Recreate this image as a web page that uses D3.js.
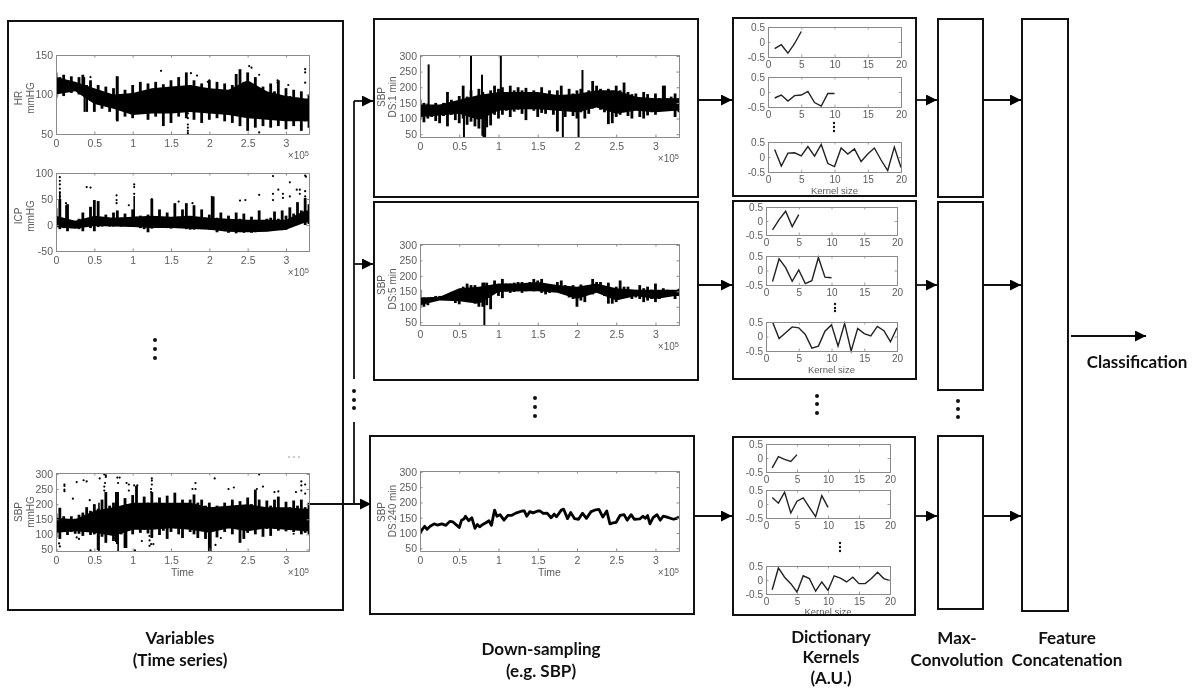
<!DOCTYPE html>
<html><head><meta charset="utf-8">
<style>html,body{margin:0;padding:0;background:#fff}svg{display:block}</style>
<script src="https://cdn.jsdelivr.net/npm/d3@7"></script></head><body>
<svg id="c" width="1192" height="700"></svg>
<script>
// ---------- data ----------
const timeStep = 5000;
const coreStep = 25000;
const timeTicks = [0, 50000, 100000, 150000, 200000, 250000, 300000];
const timeTickLabels = ["0", "0.5", "1", "1.5", "2", "2.5", "3"];
const kernelTicks = [0, 5, 10, 15, 20];

const hrHigh = [128,122,125,116,123,112,122,125,112,118,106,112,102,110,100,108,123,100,106,98,112,100,116,104,114,102,116,106,113,100,118,108,122,110,128,112,118,104,114,102,118,106,116,100,114,104,112,126,132,116,128,112,122,108,110,100,114,104,118,96,108,98,106,96,104,94,100];
const hrLow  = [96,104,98,108,102,110,100,106,78,92,78,92,82,94,78,90,66,86,72,88,70,84,76,88,68,84,72,86,60,78,64,80,72,86,70,90,68,84,64,82,68,84,70,86,66,82,64,78,60,84,54,76,58,78,60,78,58,76,60,74,56,72,60,70,54,66,58];
const hrCoreHigh = [122,116,108,100,102,108,110,112,108,106,118,104,98,95,95];
const hrCoreLow  = [100,104,88,82,74,76,76,78,76,74,70,68,66,66,66];
const hrDots = [[1.37,130],[2.52,136],[2.55,134],[2.65,125],[3.25,132],[3.25,128],[3.25,115],[1.76,127],[1.84,124],[1.72,88],[1.72,82],[1.72,76],[1.72,70],[1.72,62],[1.72,58],[1.72,54],[1.72,51],[2.65,52],[0.45,122],[2.89,118],[2.89,115],[3.03,112],[2.0,118],[1.98,116],[2.9,65]];
const hrSpikes = [[0.37,78,122],[0.79,68,123]];

const icpHigh = [32,50,12,40,6,8,12,24,10,35,48,46,14,20,12,24,28,14,22,12,30,16,18,12,20,50,16,30,14,24,12,42,16,30,42,14,38,12,30,14,20,55,14,24,10,18,8,24,12,22,8,16,10,28,8,12,14,26,12,28,18,34,22,44,28,52,40];
const icpLow  = [-5,-8,-6,-12,-6,-6,-8,-12,-4,-6,-12,-4,-3,-2,-3,-3,-2,-3,-2,-3,-3,-2,-6,-8,-14,-7,-4,-5,-5,-6,-7,-5,-6,-6,-8,-9,-9,-8,-8,-8,-9,-8,-14,-9,-12,-15,-12,-16,-14,-15,-13,-15,-14,-13,-12,-12,-11,-10,-9,-10,-9,2,6,3,8,0,2];
const icpCoreHigh = [18,8,18,14,16,18,16,18,14,12,10,10,10,28,28];
const icpCoreLow  = [-4,-7,-2,-3,-4,-6,-6,-7,-9,-13,-14,-13,-9,5,5];
const icpDots = [[0.05,100],[0.05,92],[0.05,85],[0.05,78],[0.05,70],[0.05,62],[0.05,55],[0.4,73],[0.45,72],[0.79,57],[0.79,48],[0.79,42],[1.02,78],[1.02,73],[1.02,60],[0.95,38],[1.25,50],[1.6,45],[1.78,42],[2.4,47],[2.47,48],[2.65,58],[2.83,94],[2.83,60],[2.83,48],[2.9,68],[2.96,60],[2.96,52],[3.05,82],[3.05,55],[3.14,68],[3.18,68],[3.18,60],[3.25,95],[3.26,93],[3.25,65],[3.25,55],[0.13,42],[0.14,35]];
const icpSpikes = [[0.05,0,65],[1.02,0,56],[2.03,0,56],[0.13,-5,38]];

const sbpHigh = [170,188,160,150,160,152,165,172,190,178,200,185,215,240,195,205,240,190,220,195,230,260,195,225,205,240,205,222,200,228,200,238,195,215,195,215,232,205,215,195,205,185,195,178,205,185,215,195,210,190,222,200,248,215,190,212,195,215,225,185,208,190,212,195,215,190,205];
const sbpLow  = [90,85,108,98,108,102,102,95,108,98,100,48,92,72,98,78,68,100,55,112,100,118,105,115,103,88,118,98,112,85,108,120,100,88,118,108,100,88,112,85,45,112,90,118,108,120,100,118,72,85,105,118,100,118,92,118,95,118,112,120,110,120,108,120,100,105,100];
const sbpCoreHigh = [155,150,178,190,205,205,205,205,190,195,200,190,190,185,185];
const sbpCoreLow  = [105,110,105,95,115,115,120,115,105,120,110,120,115,110,110];
const sbpDots = [[0.11,265],[0.11,260],[0.11,248],[0.11,243],[0.27,273],[0.36,279],[0.4,275],[0.57,285],[0.63,298],[0.65,295],[0.65,290],[0.64,270],[0.63,258],[0.63,245],[0.8,288],[0.83,288],[0.81,270],[0.92,270],[0.95,265],[0.95,245],[1.02,262],[1.06,262],[1.25,285],[1.25,278],[1.25,265],[1.24,250],[1.24,240],[1.82,270],[1.82,250],[1.78,250],[2.07,285],[2.08,65],[2.25,250],[2.32,255],[2.47,155],[2.62,250],[2.65,298],[2.7,258],[2.85,240],[2.9,242],[3.13,240],[3.2,275],[3.2,262],[3.2,245],[3.25,265],[3.25,235],[0.05,60],[0.04,70],[0.27,90],[0.3,85],[1.12,78],[1.22,95],[1.22,80],[1.24,68],[1.27,68],[1.22,62],[2.15,88],[3.1,102],[0.45,47],[1.03,47],[0.22,218],[0.44,213]];
const sbpSpikes = [[0.56,45,205],[0.92,55,200],[2.0,45,160],[2.02,45,150],[0.81,45,240],[0.78,75,240]];

const ds1High = [162,150,148,140,150,142,150,185,160,150,172,205,170,190,165,195,185,175,190,205,195,200,180,205,190,200,190,198,178,190,180,200,178,190,175,190,205,175,195,180,190,195,175,190,220,205,195,180,195,185,205,190,215,185,178,180,165,185,178,165,180,165,205,165,170,180,165];
const ds1Low  = [100,88,100,105,92,85,108,75,112,95,85,100,80,90,75,68,45,72,78,112,100,112,125,105,122,128,115,95,130,125,105,118,115,130,112,60,125,105,125,108,100,120,100,115,132,142,128,120,82,85,105,112,122,108,100,130,105,100,110,120,112,135,128,132,125,105,120];
const ds1CoreHigh = [145,145,160,175,185,185,185,175,178,190,190,170,165,165,165];
const ds1CoreLow  = [105,110,115,95,125,130,130,125,120,135,115,125,120,125,125];
const ds1Spikes = [[0.11,120,273],[0.65,130,300],[0.79,120,240],[1.03,130,300],[2.07,140,255],[0.56,40,140],[0.81,40,130],[0.83,40,130],[1.75,58,130],[1.82,40,130],[2.02,40,130],[3.12,140,205]];

const ds5High = [155,130,125,130,135,135,132,140,148,135,135,165,175,170,170,150,178,178,160,185,170,190,175,175,178,180,180,170,180,190,185,190,165,170,170,180,185,170,165,170,150,172,160,170,190,180,180,160,178,145,165,185,165,165,155,155,170,160,165,155,175,150,160,155,150,150,158];
const ds5Low  = [100,100,105,118,122,122,125,122,125,112,108,120,115,115,110,100,100,105,92,150,135,128,150,145,148,150,145,150,155,150,155,145,140,145,150,150,150,140,130,125,100,120,115,145,140,150,145,135,110,110,115,135,135,135,125,130,125,115,120,125,115,125,135,135,138,125,135];
const ds5CoreHigh = [130,132,160,165,175,175,180,170,165,175,160,155,155,155,155];
const ds5CoreLow  = [105,120,118,110,148,150,150,145,125,145,120,135,125,135,135];
const ds5Spikes = [[0.82,40,178]];

const ds240X = [0,.03,.06,.09,.13,.18,.22,.28,.33,.38,.42,.47,.5,.53,.56,.58,.62,.66,.7,.73,.76,.8,.85,.88,.91,.95,.98,1.02,1.07,1.12,1.17,1.22,1.3,1.33,1.36,1.4,1.44,1.5,1.53,1.57,1.62,1.67,1.71,1.74,1.8,1.83,1.88,1.92,1.97,2.02,2.07,2.12,2.18,2.24,2.28,2.33,2.38,2.42,2.46,2.5,2.55,2.6,2.64,2.69,2.73,2.8,2.84,2.87,2.9,2.93,2.97,3.02,3.06,3.1,3.17,3.23,3.27,3.3];
const ds240Y = [100,112,122,112,122,130,126,130,125,138,136,125,118,142,146,155,140,150,115,128,120,128,135,140,125,175,155,160,142,158,158,165,172,172,155,170,166,172,172,164,165,150,162,153,175,178,147,167,147,145,165,148,170,176,177,152,172,130,133,135,158,160,142,160,145,146,155,148,157,130,150,160,142,155,150,145,148,152];

const k1a = [-.22,-.09,-.37,-.05,.35];
const k1b = [-.2,-.1,-.3,-.12,-.1,.02,-.35,-.47,-.05,-.05];
const k1c = [.25,-.3,.13,.14,.04,.35,.03,.42,-.22,-.32,.3,.1,.27,-.15,.1,.3,-.1,-.45,.33,-.35];
const k2a = [-.32,.05,.35,-.2,.23];
const k2b = [-.38,.4,.1,-.37,.02,-.45,-.35,.45,-.23,-.25];
const k2c = [.5,-.07,.13,.33,.3,.07,-.4,-.33,.18,.4,-.33,.45,-.5,.28,.1,.02,.35,.2,-.18,.3];
const k3a = [-.35,.05,-.05,-.12,.12];
const k3b = [.23,.03,.42,-.32,.1,.22,-.12,-.45,.3,-.12];
const k3c = [-.35,.43,.1,-.13,-.43,.15,.05,-.4,-.07,-.37,.15,.07,-.07,.1,-.13,-.13,.05,.28,.05,-.02];

// ---------- drawing ----------
const svg = d3.select("#c");
const GREY = "#8a8a8a", TXT = "#5c5c5c", SANS = "Liberation Sans";
const plots = svg.append("g").style("filter","blur(0.5px)");
const boxes = svg.append("g");

svg.append("defs").append("marker").attr("id","ah").attr("viewBox","0 0 10 10")
  .attr("refX",10).attr("refY",5).attr("markerWidth",11).attr("markerHeight",11)
  .attr("markerUnits","userSpaceOnUse").attr("orient","auto")
  .append("path").attr("d","M0,0L10,5L0,10Z").attr("fill","#000");

function rect(x0,y0,x1,y1,w){
  boxes.append("rect").attr("x",x0).attr("y",y0).attr("width",x1-x0).attr("height",y1-y0)
    .attr("fill","none").attr("stroke","#111").attr("stroke-width",w||2);
}
function seg(x0,y0,x1,y1,arrow){
  const l = boxes.append("line").attr("x1",x0).attr("y1",y0).attr("x2",x1).attr("y2",y1)
    .attr("stroke","#111").attr("stroke-width",1.8);
  if(arrow) l.attr("marker-end","url(#ah)");
}
function dots(x,ys,r){ ys.forEach(y=>boxes.append("circle").attr("cx",x).attr("cy",y).attr("r",r).attr("fill","#111")); }

function frame(g,x,y,xTicks,xFmt,yTicks,fs,pad){
  const b = y.range()[0], t = y.range()[1], l = x.range()[0], r = x.range()[1];
  const ax = d3.axisBottom(x).tickValues(xTicks).tickFormat(xFmt).tickSize(-2.5).tickPadding(pad);
  const ay = d3.axisLeft(y).tickValues(yTicks).tickSize(-2.5).tickPadding(3).tickFormat(v=>String(v));
  g.append("g").attr("transform",`translate(0,${b})`).call(ax);
  g.append("g").attr("transform",`translate(${l},0)`).call(ay);
  g.append("g").attr("transform",`translate(0,${t})`).call(d3.axisTop(x).tickValues(xTicks).tickFormat("").tickSize(-2.5));
  g.append("g").attr("transform",`translate(${r},0)`).call(d3.axisRight(y).tickValues(yTicks).tickFormat("").tickSize(-2.5));
  g.selectAll(".domain").attr("stroke",GREY).attr("stroke-width",1);
  g.selectAll(".tick line").attr("stroke",GREY);
  g.selectAll(".tick text").attr("fill",TXT).style("font-family",SANS).style("font-size",fs+"px");
}

function timePlot(cfg){
  const g = plots.append("g");
  const x = d3.scaleLinear().domain([0,330000]).range([cfg.x0,cfg.x1]);
  const y = d3.scaleLinear().domain(cfg.dom).range([cfg.y1,cfg.y0]);
  const clip = "cl"+cfg.y0+"_"+cfg.x0;
  svg.select("defs").append("clipPath").attr("id",clip).append("rect")
    .attr("x",cfg.x0).attr("y",cfg.y0).attr("width",cfg.x1-cfg.x0).attr("height",cfg.y1-cfg.y0);
  const d = g.append("g").attr("clip-path",`url(#${clip})`);
  if(cfg.high){
    d.selectAll("line.bar").data(cfg.high).join("line").attr("class","bar")
      .attr("x1",(h,i)=>x(i*timeStep)).attr("x2",(h,i)=>x(i*timeStep))
      .attr("y1",(h,i)=>y(cfg.low[i])).attr("y2",h=>y(h))
      .attr("stroke","#000").attr("stroke-width",2.8);
    const core = cfg.coreHigh.map((h,i)=>({t:i*coreStep,h,l:cfg.coreLow[i]}));
    d.append("path").datum(core)
      .attr("d",d3.area().x(r=>x(r.t)).y0(r=>y(r.l)).y1(r=>y(r.h)))
      .attr("fill","#000");
  }
  (cfg.spikes||[]).forEach(s=>d.append("line")
    .attr("x1",x(s[0]*1e5)).attr("x2",x(s[0]*1e5)).attr("y1",y(s[1])).attr("y2",y(s[2]))
    .attr("stroke","#000").attr("stroke-width",cfg.spikeW||1.6));
  (cfg.dots||[]).forEach(p=>d.append("circle").attr("cx",x(p[0]*1e5)).attr("cy",y(p[1])).attr("r",1.1).attr("fill","#000"));
  if(cfg.lineX){
    const rows = cfg.lineX.map((t,i)=>[t*1e5,cfg.lineY[i]]);
    d.append("path").datum(rows).attr("d",d3.line().x(r=>x(r[0])).y(r=>y(r[1])))
      .attr("fill","none").attr("stroke","#000").attr("stroke-width",2.8).attr("stroke-linejoin","round");
  }
  frame(g,x,y,timeTicks,(v,i)=>timeTickLabels[i],cfg.yt,10.5,6);
  const ex = g.append("text").attr("x",cfg.x1).attr("y",cfg.y1+25).attr("text-anchor","end")
    .attr("fill",TXT).style("font-family",SANS).style("font-size","10px");
  ex.append("tspan").text("×10");
  ex.append("tspan").attr("dy",-3).style("font-size","7.5px").text("5");
  cfg.labels.forEach(l=>g.append("text").attr("transform",`translate(${l[0]},${l[1]}) rotate(-90)`)
    .attr("text-anchor","middle").attr("dy","0.35em").attr("fill",TXT).style("font-family",SANS).style("font-size","10px").text(l[2]));
  if(cfg.xlabel) g.append("text").attr("x",(cfg.x0+cfg.x1)/2).attr("y",cfg.y1+25).attr("text-anchor","middle")
    .attr("fill",TXT).style("font-family",SANS).style("font-size","10.5px").text(cfg.xlabel);
}

const sbpTicks=[50,100,150,200,250,300];
timePlot({x0:56,x1:309,y0:55,y1:134,dom:[50,150],yt:[50,100,150],high:hrHigh,low:hrLow,coreHigh:hrCoreHigh,coreLow:hrCoreLow,dots:hrDots,spikes:hrSpikes,labels:[[18,98,"HR"],[30,98,"mmHG"]]});
timePlot({x0:56,x1:309,y0:173,y1:251,dom:[-50,100],yt:[-50,0,50,100],high:icpHigh,low:icpLow,coreHigh:icpCoreHigh,coreLow:icpCoreLow,dots:icpDots,spikes:icpSpikes,labels:[[18,216,"ICP"],[30,216,"mmHG"]]});
timePlot({x0:56,x1:309,y0:473,y1:551,dom:[45,303],yt:sbpTicks,high:sbpHigh,low:sbpLow,coreHigh:sbpCoreHigh,coreLow:sbpCoreLow,dots:sbpDots,spikes:sbpSpikes,labels:[[18,512,"SBP"],[30,512,"mmHG"]],xlabel:"Time"});
timePlot({x0:420,x1:679,y0:55,y1:137,dom:[41,303],yt:sbpTicks,high:ds1High,low:ds1Low,coreHigh:ds1CoreHigh,coreLow:ds1CoreLow,spikes:ds1Spikes,spikeW:2,labels:[[381,97,"SBP"],[392,97,"DS:1 min"]]});
timePlot({x0:420,x1:679,y0:244,y1:325,dom:[41,303],yt:sbpTicks,high:ds5High,low:ds5Low,coreHigh:ds5CoreHigh,coreLow:ds5CoreLow,spikes:ds5Spikes,spikeW:2,labels:[[381,285,"SBP"],[392,289,"DS:5 min"]]});
timePlot({x0:420,x1:679,y0:471,y1:551,dom:[41,303],yt:sbpTicks,lineX:ds240X,lineY:ds240Y,labels:[[381,512,"SBP"],[392,511,"DS:240 min"]],xlabel:"Time"});

function kernelPlot(x0,x1,y0,y1,vals,xlabel,ly){
  const g = plots.append("g");
  const x = d3.scaleLinear().domain([0,20]).range([x0,x1]);
  const y = d3.scaleLinear().domain([-.5,.5]).range([y1,y0]);
  g.append("path").datum(vals)
    .attr("d",d3.line().x((v,i)=>x(i+1)).y(v=>y(v)))
    .attr("fill","none").attr("stroke","#222").attr("stroke-width",1.4);
  frame(g,x,y,kernelTicks,d3.format("d"),[-.5,0,.5],10,3.5);
  g.selectAll(".tick line").attr("stroke-width",.8);
  if(xlabel) g.append("text").attr("x",(x0+x1)/2).attr("y",ly).attr("text-anchor","middle")
    .attr("fill",TXT).style("font-family",SANS).style("font-size","9.5px").text(xlabel);
}
kernelPlot(768,901,27,57,k1a);
kernelPlot(768,901,77,107,k1b);
kernelPlot(768,901,142,172,k1c,"Kernel size",194);
kernelPlot(766,897,207,235,k2a);
kernelPlot(766,897,256,285,k2b);
kernelPlot(766,897,322,351,k2c,"Kernel size",373);
kernelPlot(766,890,444,472,k3a);
kernelPlot(766,890,490,518,k3b);
kernelPlot(766,890,566,594,k3c,"Kernel size",615);

// boxes
rect(8,21,343,610);
rect(374,19,698,197); rect(374,202,698,380); rect(370,436,694,614);
rect(733,18,916,196); rect(733,201,916,379); rect(733,437,915,615);
rect(938,19,983,197); rect(938,202,983,390); rect(938,436,983,609);
rect(1022,19,1068,611);

// connectors
seg(354,101,354,379); seg(354,422,354,504);
seg(354,101,373,101,true); seg(354,264,373,264,true); seg(310,504,371,504,true);
[[698,100],[698,285],[694,516]].forEach(a=>seg(a[0],a[1],732,a[1],true));
[100,285,516].forEach(y=>{seg(916,y,937,y,true); seg(983,y,1021,y,true);});
seg(1071,336,1146,336,true);

// ellipsis dots
dots(155,[340,349,358],2);
dots(354,[391,400,408],2);
dots(535,[398,407,416],2);
dots(817,[396,404,413],2);
dots(958,[401,409,417],2);
dots(834,[123,127,131],1.2);
dots(835,[304,308,311],1.2);
dots(840,[543,547,551],1.2);
boxes.append("line").attr("x1",288).attr("x2",303).attr("y1",457).attr("y2",457)
  .attr("stroke","#999").attr("stroke-width",1).attr("stroke-dasharray","2 3");

// captions
const captions = [
 ["Variables",180,644],["(Time series)",180,666],
 ["Down-sampling",541,655],["(e.g. SBP)",541,677],
 ["Dictionary",831,643],["Kernels",831,663],["(A.U.)",831,684],
 ["Max-",957,644],["Convolution",957,666],
 ["Feature",1067,644],["Concatenation",1067,666],
 ["Classification",1137,368]];
captions.forEach(c=>svg.append("text").attr("x",c[1]).attr("y",c[2]).attr("text-anchor","middle")
  .style("font-family","Lato").attr("font-weight",700).style("font-size","17px").attr("fill","#111").text(c[0]));
</script></body></html>
